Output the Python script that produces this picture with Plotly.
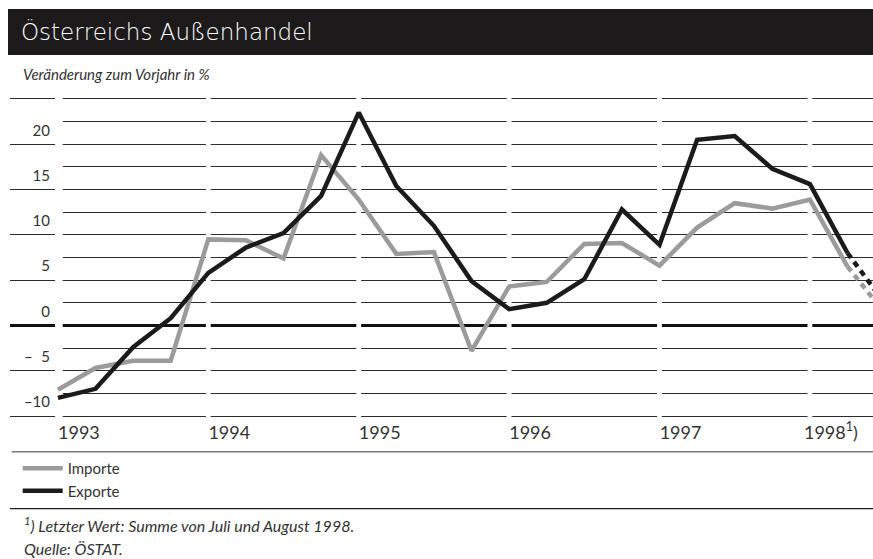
import plotly.graph_objects as go

# ---------------- data ----------------
quarters = [1993.00, 1993.25, 1993.50, 1993.75,
            1994.00, 1994.25, 1994.50, 1994.75,
            1995.00, 1995.25, 1995.50, 1995.75,
            1996.00, 1996.25, 1996.50, 1996.75,
            1997.00, 1997.25, 1997.50, 1997.75,
            1998.00, 1998.25, 1998.50]

importe = [-7.1, -4.7, -3.9, -3.9,
           9.5, 9.4, 7.4, 18.8,
           13.9, 7.9, 8.1, -2.8,
           4.3, 4.8, 9.0, 9.1,
           6.6, 10.8, 13.5, 12.9,
           13.9, 6.5, 1.3]

exporte = [-8.0, -7.0, -2.4, 0.8,
           5.8, 8.6, 10.2, 14.3,
           23.5, 15.4, 11.0, 4.9,
           1.8, 2.5, 5.1, 12.8,
           8.9, 20.5, 20.9, 17.3,
           15.6, 8.0, 2.4]

year_ticks = [1993, 1994, 1995, 1996, 1997, 1998]
year_labels = ["1993", "1994", "1995", "1996", "1997", "1998<sup>1</sup>)"]

y_label_values = [-10, -5, 0, 5, 10, 15, 20]
y_labels = ["\u201310", "\u2013\u20075", "0", "5", "10", "15", "20"]
major_grid = [-10, -5, 0, 5, 10, 15, 20, 25]
minor_grid = [-7.5, -2.5, 2.5, 7.5, 12.5, 17.5, 22.5]

title_text = "Österreichs Außenhandel"
subtitle_text = "Veränderung zum Vorjahr in %"
footnote_text = "<sup>1</sup>) Letzter Wert: Summe von Juli und August 1998."
source_text = "Quelle: ÖSTAT."

# ---------------- geometry helpers ----------------
W, H = 873, 559
ML, MR, MT, MB = 10, 0, 95, 139
PW, PH = W - ML - MR, H - MT - MB
X0, X1 = 1992.6815, 1998.4195
Y0, Y1 = -10.44, 25.44


def px(xp):
    return (xp - ML) / PW


def py(yp):
    return (H - MB - yp) / PH


FONT = "Lato, 'Open Sans', sans-serif"
GRAY = "#9b9b9b"
BLACK = "#1b1b1b"
GRID = "#2b2b2b"

n_solid = 22  # last value (Jul+Aug 1998) drawn dashed

fig = go.Figure()
fig.add_trace(go.Scatter(x=quarters[:n_solid], y=importe[:n_solid], mode="lines",
                         name="Importe", line=dict(color=GRAY, width=4.5), legendrank=1))
fig.add_trace(go.Scatter(x=quarters[n_solid - 1:], y=importe[n_solid - 1:], mode="lines",
                         showlegend=False, line=dict(color=GRAY, width=4.5, dash="6px,5px")))
fig.add_trace(go.Scatter(x=quarters[:n_solid], y=exporte[:n_solid], mode="lines",
                         name="Exporte", line=dict(color=BLACK, width=4.5), legendrank=2))
fig.add_trace(go.Scatter(x=quarters[n_solid - 1:], y=exporte[n_solid - 1:], mode="lines",
                         showlegend=False, line=dict(color=BLACK, width=4.5, dash="6px,5px")))

shapes = []
# title bar
shapes.append(dict(type="rect", xref="paper", yref="paper", x0=px(8), x1=1.0,
                   y0=py(55), y1=py(9), fillcolor="#1c1a1a", line=dict(width=0), layer="above"))
# hide left stubs of the intermediate grid lines
for v in minor_grid:
    shapes.append(dict(type="line", xref="x", yref="y", x0=X0, x1=1993.032, y0=v, y1=v,
                       line=dict(color="white", width=3), layer="between"))
# white gaps at year boundaries
for yr in year_ticks:
    a, b = (1992.981, 1993.032) if yr == 1993 else (yr - 0.016, yr + 0.016)
    shapes.append(dict(type="rect", xref="x", yref="y", x0=a, x1=b, y0=Y0, y1=Y1,
                       fillcolor="white", line=dict(width=0), layer="between"))
# separators
shapes.append(dict(type="line", xref="paper", yref="paper", x0=px(11.7), x1=1.0,
                   y0=py(451.7), y1=py(451.7), line=dict(color="#7a7a7a", width=1.5)))
shapes.append(dict(type="line", xref="paper", yref="paper", x0=px(10), x1=1.0,
                   y0=py(508.7), y1=py(508.7), line=dict(color="#222", width=1.3)))

annotations = [
    dict(text=title_text, xref="paper", yref="paper", x=px(19), y=py(31.5), xanchor="left",
         yanchor="middle", showarrow=False,
         font=dict(family="'DejaVu Sans', sans-serif", size=23, color="white", weight=200)),
    dict(text=subtitle_text, xref="paper", yref="paper", x=px(20.5), y=py(74), xanchor="left",
         yanchor="middle", showarrow=False,
         font=dict(family=FONT, size=15, color="#333", style="italic")),
    dict(text=footnote_text, xref="paper", yref="paper", x=px(22), y=py(524), xanchor="left",
         yanchor="middle", showarrow=False,
         font=dict(family=FONT, size=16, color="#333", style="italic")),
    dict(text=source_text, xref="paper", yref="paper", x=px(22), y=py(548), xanchor="left",
         yanchor="middle", showarrow=False,
         font=dict(family=FONT, size=16, color="#333", style="italic")),
]

label_map = dict(zip(y_label_values, y_labels))

fig.update_layout(
    width=W, height=H, autosize=False,
    margin=dict(l=ML, r=MR, t=MT, b=MB, pad=0),
    paper_bgcolor="white", plot_bgcolor="white",
    font=dict(family=FONT, color="#333"),
    showlegend=True,
    legend=dict(x=px(17.7), xanchor="left", y=py(452), yanchor="top",
                bgcolor="rgba(0,0,0,0)", font=dict(size=15, color="#333"),
                traceorder="normal", itemwidth=40, tracegroupgap=0),
    xaxis=dict(range=[X0, X1], tickvals=year_ticks, ticktext=year_labels,
               showgrid=False, zeroline=False, showline=False, ticks="",
               ticklabelshift=21, tickfont=dict(size=18, color="#333"), fixedrange=True),
    yaxis=dict(range=[Y0, Y1], tickvals=y_label_values, ticktext=y_labels,
               showgrid=False, zeroline=True, zerolinecolor="#111", zerolinewidth=2.5,
               minor=dict(tickvals=major_grid + minor_grid, showgrid=True,
                          gridcolor=GRID, gridwidth=1, ticks=""),
               showline=False, ticks="", anchor="free", position=px(50),
               ticklabelshift=-14, tickfont=dict(size=15, color="#333"), fixedrange=True),
    shapes=shapes,
    annotations=annotations,
)

page_css = ("document.documentElement.style.margin='0';"
            "document.body.style.margin='0';"
            "document.body.style.overflow='hidden';")

fig.write_html("out.html", config={"responsive": False, "displayModeBar": False},
               post_script=page_css)
